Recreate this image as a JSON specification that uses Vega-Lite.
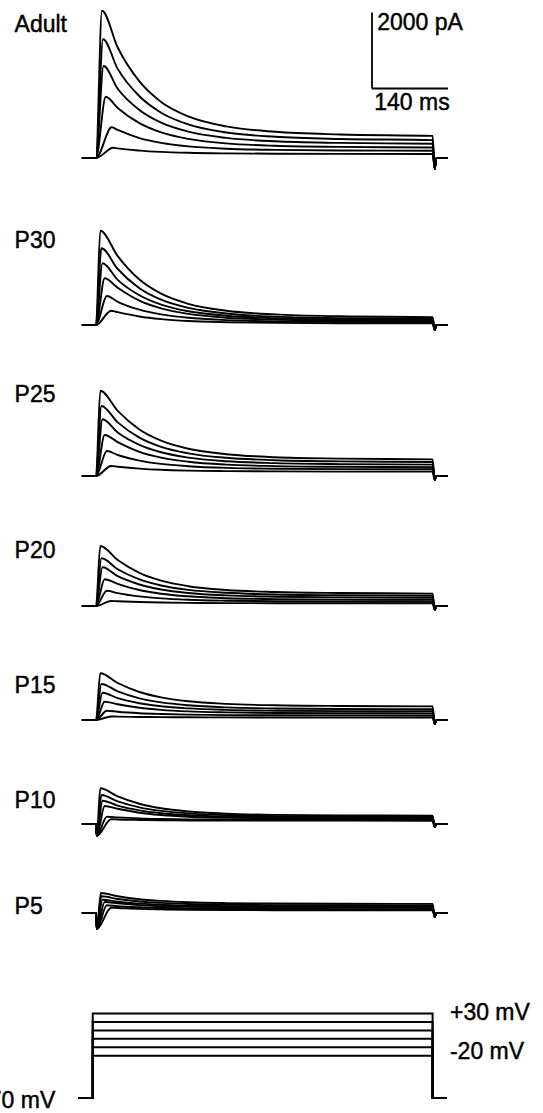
{
"$schema": "https://vega.github.io/schema/vega-lite/v6.json",
"padding": 0,
"spacing": 0,
"bounds": "flush",
"background": "white",
"config": {"view": {"stroke": null}, "text": {"font": "Liberation Sans", "fontSize": 23, "color": "black", "stroke": "black", "strokeWidth": 0.45}},
"datasets": {
"cur": [
{"p":"Adult","v":30,"t":-26,"i":0},{"p":"Adult","v":30,"t":0,"i":0},{"p":"Adult","v":30,"t":11,"i":3876},{"p":"Adult","v":30,"t":40,"i":2908},{"p":"Adult","v":30,"t":80,"i":2016},{"p":"Adult","v":30,"t":120,"i":1476},{"p":"Adult","v":30,"t":170,"i":1095},{"p":"Adult","v":30,"t":240,"i":832},{"p":"Adult","v":30,"t":330,"i":689},{"p":"Adult","v":30,"t":450,"i":618},{"p":"Adult","v":30,"t":620,"i":582},{"p":"Adult","v":30,"t":624,"i":-289},{"p":"Adult","v":30,"t":627,"i":0},{"p":"Adult","v":30,"t":648,"i":0},
{"p":"Adult","v":20,"t":-26,"i":0},{"p":"Adult","v":20,"t":0,"i":0},{"p":"Adult","v":20,"t":13,"i":3124},{"p":"Adult","v":20,"t":40,"i":2345},{"p":"Adult","v":20,"t":80,"i":1624},{"p":"Adult","v":20,"t":120,"i":1192},{"p":"Adult","v":20,"t":170,"i":884},{"p":"Adult","v":20,"t":240,"i":671},{"p":"Adult","v":20,"t":330,"i":558},{"p":"Adult","v":20,"t":450,"i":500},{"p":"Adult","v":20,"t":620,"i":471},{"p":"Adult","v":20,"t":624,"i":-289},{"p":"Adult","v":20,"t":627,"i":0},{"p":"Adult","v":20,"t":648,"i":0},
{"p":"Adult","v":10,"t":-26,"i":0},{"p":"Adult","v":10,"t":0,"i":0},{"p":"Adult","v":10,"t":14,"i":2421},{"p":"Adult","v":10,"t":40,"i":1821},{"p":"Adult","v":10,"t":80,"i":1263},{"p":"Adult","v":10,"t":120,"i":929},{"p":"Adult","v":10,"t":170,"i":692},{"p":"Adult","v":10,"t":240,"i":529},{"p":"Adult","v":10,"t":330,"i":439},{"p":"Adult","v":10,"t":450,"i":397},{"p":"Adult","v":10,"t":620,"i":374},{"p":"Adult","v":10,"t":624,"i":-289},{"p":"Adult","v":10,"t":627,"i":0},{"p":"Adult","v":10,"t":648,"i":0},
{"p":"Adult","v":0,"t":-26,"i":0},{"p":"Adult","v":0,"t":0,"i":0},{"p":"Adult","v":0,"t":18,"i":1613},{"p":"Adult","v":0,"t":40,"i":1318},{"p":"Adult","v":0,"t":80,"i":916},{"p":"Adult","v":0,"t":120,"i":674},{"p":"Adult","v":0,"t":170,"i":503},{"p":"Adult","v":0,"t":240,"i":384},{"p":"Adult","v":0,"t":330,"i":321},{"p":"Adult","v":0,"t":450,"i":292},{"p":"Adult","v":0,"t":620,"i":276},{"p":"Adult","v":0,"t":624,"i":-289},{"p":"Adult","v":0,"t":627,"i":0},{"p":"Adult","v":0,"t":648,"i":0},
{"p":"Adult","v":-10,"t":-26,"i":0},{"p":"Adult","v":-10,"t":0,"i":0},{"p":"Adult","v":-10,"t":29,"i":808},{"p":"Adult","v":-10,"t":40,"i":737},{"p":"Adult","v":-10,"t":80,"i":524},{"p":"Adult","v":-10,"t":120,"i":397},{"p":"Adult","v":-10,"t":170,"i":305},{"p":"Adult","v":-10,"t":240,"i":245},{"p":"Adult","v":-10,"t":330,"i":213},{"p":"Adult","v":-10,"t":450,"i":197},{"p":"Adult","v":-10,"t":620,"i":189},{"p":"Adult","v":-10,"t":624,"i":-289},{"p":"Adult","v":-10,"t":627,"i":0},{"p":"Adult","v":-10,"t":648,"i":0},
{"p":"Adult","v":-20,"t":-26,"i":0},{"p":"Adult","v":-20,"t":0,"i":0},{"p":"Adult","v":-20,"t":32,"i":271},{"p":"Adult","v":-20,"t":40,"i":253},{"p":"Adult","v":-20,"t":80,"i":195},{"p":"Adult","v":-20,"t":120,"i":161},{"p":"Adult","v":-20,"t":170,"i":137},{"p":"Adult","v":-20,"t":240,"i":121},{"p":"Adult","v":-20,"t":330,"i":113},{"p":"Adult","v":-20,"t":450,"i":108},{"p":"Adult","v":-20,"t":620,"i":107},{"p":"Adult","v":-20,"t":624,"i":-289},{"p":"Adult","v":-20,"t":627,"i":0},{"p":"Adult","v":-20,"t":648,"i":0},

{"p":"P30","v":30,"t":-26,"i":0},{"p":"P30","v":30,"t":0,"i":0},{"p":"P30","v":30,"t":8,"i":2482},{"p":"P30","v":30,"t":40,"i":1813},{"p":"P30","v":30,"t":80,"i":1195},{"p":"P30","v":30,"t":120,"i":824},{"p":"P30","v":30,"t":170,"i":558},{"p":"P30","v":30,"t":240,"i":376},{"p":"P30","v":30,"t":330,"i":279},{"p":"P30","v":30,"t":450,"i":229},{"p":"P30","v":30,"t":620,"i":205},{"p":"P30","v":30,"t":624,"i":-132},{"p":"P30","v":30,"t":627,"i":0},{"p":"P30","v":30,"t":648,"i":0},
{"p":"P30","v":20,"t":-26,"i":0},{"p":"P30","v":20,"t":0,"i":0},{"p":"P30","v":20,"t":10,"i":2018},{"p":"P30","v":20,"t":40,"i":1474},{"p":"P30","v":20,"t":80,"i":968},{"p":"P30","v":20,"t":120,"i":666},{"p":"P30","v":20,"t":170,"i":450},{"p":"P30","v":20,"t":240,"i":303},{"p":"P30","v":20,"t":330,"i":221},{"p":"P30","v":20,"t":450,"i":182},{"p":"P30","v":20,"t":620,"i":161},{"p":"P30","v":20,"t":624,"i":-132},{"p":"P30","v":20,"t":627,"i":0},{"p":"P30","v":20,"t":648,"i":0},
{"p":"P30","v":10,"t":-26,"i":0},{"p":"P30","v":10,"t":0,"i":0},{"p":"P30","v":10,"t":12,"i":1624},{"p":"P30","v":10,"t":40,"i":1187},{"p":"P30","v":10,"t":80,"i":782},{"p":"P30","v":10,"t":120,"i":537},{"p":"P30","v":10,"t":170,"i":363},{"p":"P30","v":10,"t":240,"i":245},{"p":"P30","v":10,"t":330,"i":179},{"p":"P30","v":10,"t":450,"i":147},{"p":"P30","v":10,"t":620,"i":132},{"p":"P30","v":10,"t":624,"i":-132},{"p":"P30","v":10,"t":627,"i":0},{"p":"P30","v":10,"t":648,"i":0},
{"p":"P30","v":0,"t":-26,"i":0},{"p":"P30","v":0,"t":0,"i":0},{"p":"P30","v":0,"t":16,"i":1229},{"p":"P30","v":0,"t":40,"i":982},{"p":"P30","v":0,"t":80,"i":642},{"p":"P30","v":0,"t":120,"i":437},{"p":"P30","v":0,"t":170,"i":292},{"p":"P30","v":0,"t":240,"i":192},{"p":"P30","v":0,"t":330,"i":142},{"p":"P30","v":0,"t":450,"i":116},{"p":"P30","v":0,"t":620,"i":103},{"p":"P30","v":0,"t":624,"i":-132},{"p":"P30","v":0,"t":627,"i":0},{"p":"P30","v":0,"t":648,"i":0},
{"p":"P30","v":-10,"t":-26,"i":0},{"p":"P30","v":-10,"t":0,"i":0},{"p":"P30","v":-10,"t":20,"i":763},{"p":"P30","v":-10,"t":40,"i":611},{"p":"P30","v":-10,"t":80,"i":403},{"p":"P30","v":-10,"t":120,"i":279},{"p":"P30","v":-10,"t":170,"i":189},{"p":"P30","v":-10,"t":240,"i":129},{"p":"P30","v":-10,"t":330,"i":95},{"p":"P30","v":-10,"t":450,"i":82},{"p":"P30","v":-10,"t":620,"i":72},{"p":"P30","v":-10,"t":624,"i":-132},{"p":"P30","v":-10,"t":627,"i":0},{"p":"P30","v":-10,"t":648,"i":0},
{"p":"P30","v":-20,"t":-26,"i":0},{"p":"P30","v":-20,"t":0,"i":0},{"p":"P30","v":-20,"t":28,"i":376},{"p":"P30","v":-20,"t":40,"i":337},{"p":"P30","v":-20,"t":80,"i":224},{"p":"P30","v":-20,"t":120,"i":155},{"p":"P30","v":-20,"t":170,"i":105},{"p":"P30","v":-20,"t":240,"i":74},{"p":"P30","v":-20,"t":330,"i":55},{"p":"P30","v":-20,"t":450,"i":47},{"p":"P30","v":-20,"t":620,"i":42},{"p":"P30","v":-20,"t":624,"i":-132},{"p":"P30","v":-20,"t":627,"i":0},{"p":"P30","v":-20,"t":648,"i":0},

{"p":"P25","v":30,"t":-26,"i":0},{"p":"P25","v":30,"t":0,"i":0},{"p":"P25","v":30,"t":8,"i":2245},{"p":"P25","v":30,"t":40,"i":1713},{"p":"P25","v":30,"t":80,"i":1224},{"p":"P25","v":30,"t":120,"i":929},{"p":"P25","v":30,"t":170,"i":718},{"p":"P25","v":30,"t":240,"i":574},{"p":"P25","v":30,"t":330,"i":495},{"p":"P25","v":30,"t":450,"i":458},{"p":"P25","v":30,"t":620,"i":437},{"p":"P25","v":30,"t":624,"i":-105},{"p":"P25","v":30,"t":627,"i":0},{"p":"P25","v":30,"t":648,"i":0},
{"p":"P25","v":20,"t":-26,"i":0},{"p":"P25","v":20,"t":0,"i":0},{"p":"P25","v":20,"t":10,"i":1842},{"p":"P25","v":20,"t":40,"i":1411},{"p":"P25","v":20,"t":80,"i":1011},{"p":"P25","v":20,"t":120,"i":768},{"p":"P25","v":20,"t":170,"i":597},{"p":"P25","v":20,"t":240,"i":479},{"p":"P25","v":20,"t":330,"i":416},{"p":"P25","v":20,"t":450,"i":384},{"p":"P25","v":20,"t":620,"i":368},{"p":"P25","v":20,"t":624,"i":-105},{"p":"P25","v":20,"t":627,"i":0},{"p":"P25","v":20,"t":648,"i":0},
{"p":"P25","v":10,"t":-26,"i":0},{"p":"P25","v":10,"t":0,"i":0},{"p":"P25","v":10,"t":12,"i":1492},{"p":"P25","v":10,"t":40,"i":1142},{"p":"P25","v":10,"t":80,"i":818},{"p":"P25","v":10,"t":120,"i":624},{"p":"P25","v":10,"t":170,"i":484},{"p":"P25","v":10,"t":240,"i":389},{"p":"P25","v":10,"t":330,"i":339},{"p":"P25","v":10,"t":450,"i":313},{"p":"P25","v":10,"t":620,"i":300},{"p":"P25","v":10,"t":624,"i":-105},{"p":"P25","v":10,"t":627,"i":0},{"p":"P25","v":10,"t":648,"i":0},
{"p":"P25","v":0,"t":-26,"i":0},{"p":"P25","v":0,"t":0,"i":0},{"p":"P25","v":0,"t":16,"i":1079},{"p":"P25","v":0,"t":40,"i":892},{"p":"P25","v":0,"t":80,"i":637},{"p":"P25","v":0,"t":120,"i":484},{"p":"P25","v":0,"t":170,"i":376},{"p":"P25","v":0,"t":240,"i":300},{"p":"P25","v":0,"t":330,"i":261},{"p":"P25","v":0,"t":450,"i":242},{"p":"P25","v":0,"t":620,"i":232},{"p":"P25","v":0,"t":624,"i":-105},{"p":"P25","v":0,"t":627,"i":0},{"p":"P25","v":0,"t":648,"i":0},
{"p":"P25","v":-10,"t":-26,"i":0},{"p":"P25","v":-10,"t":0,"i":0},{"p":"P25","v":-10,"t":20,"i":658},{"p":"P25","v":-10,"t":40,"i":553},{"p":"P25","v":-10,"t":80,"i":405},{"p":"P25","v":-10,"t":120,"i":318},{"p":"P25","v":-10,"t":170,"i":258},{"p":"P25","v":-10,"t":240,"i":213},{"p":"P25","v":-10,"t":330,"i":192},{"p":"P25","v":-10,"t":450,"i":182},{"p":"P25","v":-10,"t":620,"i":176},{"p":"P25","v":-10,"t":624,"i":-105},{"p":"P25","v":-10,"t":627,"i":0},{"p":"P25","v":-10,"t":648,"i":0},
{"p":"P25","v":-20,"t":-26,"i":0},{"p":"P25","v":-20,"t":0,"i":0},{"p":"P25","v":-20,"t":28,"i":263},{"p":"P25","v":-20,"t":40,"i":245},{"p":"P25","v":-20,"t":80,"i":195},{"p":"P25","v":-20,"t":120,"i":163},{"p":"P25","v":-20,"t":170,"i":142},{"p":"P25","v":-20,"t":240,"i":129},{"p":"P25","v":-20,"t":330,"i":121},{"p":"P25","v":-20,"t":450,"i":116},{"p":"P25","v":-20,"t":620,"i":114},{"p":"P25","v":-20,"t":624,"i":-105},{"p":"P25","v":-20,"t":627,"i":0},{"p":"P25","v":-20,"t":648,"i":0},

{"p":"P20","v":30,"t":-26,"i":0},{"p":"P20","v":30,"t":0,"i":0},{"p":"P20","v":30,"t":8,"i":1579},{"p":"P20","v":30,"t":40,"i":1211},{"p":"P20","v":30,"t":80,"i":871},{"p":"P20","v":30,"t":120,"i":666},{"p":"P20","v":30,"t":170,"i":521},{"p":"P20","v":30,"t":240,"i":421},{"p":"P20","v":30,"t":330,"i":368},{"p":"P20","v":30,"t":450,"i":342},{"p":"P20","v":30,"t":620,"i":326},{"p":"P20","v":30,"t":624,"i":-105},{"p":"P20","v":30,"t":627,"i":0},{"p":"P20","v":30,"t":648,"i":0},
{"p":"P20","v":20,"t":-26,"i":0},{"p":"P20","v":20,"t":0,"i":0},{"p":"P20","v":20,"t":10,"i":1255},{"p":"P20","v":20,"t":40,"i":966},{"p":"P20","v":20,"t":80,"i":700},{"p":"P20","v":20,"t":120,"i":539},{"p":"P20","v":20,"t":170,"i":424},{"p":"P20","v":20,"t":240,"i":347},{"p":"P20","v":20,"t":330,"i":303},{"p":"P20","v":20,"t":450,"i":284},{"p":"P20","v":20,"t":620,"i":271},{"p":"P20","v":20,"t":624,"i":-105},{"p":"P20","v":20,"t":627,"i":0},{"p":"P20","v":20,"t":648,"i":0},
{"p":"P20","v":10,"t":-26,"i":0},{"p":"P20","v":10,"t":0,"i":0},{"p":"P20","v":10,"t":12,"i":1018},{"p":"P20","v":10,"t":40,"i":784},{"p":"P20","v":10,"t":80,"i":566},{"p":"P20","v":10,"t":120,"i":434},{"p":"P20","v":10,"t":170,"i":342},{"p":"P20","v":10,"t":240,"i":279},{"p":"P20","v":10,"t":330,"i":245},{"p":"P20","v":10,"t":450,"i":226},{"p":"P20","v":10,"t":620,"i":218},{"p":"P20","v":10,"t":624,"i":-105},{"p":"P20","v":10,"t":627,"i":0},{"p":"P20","v":10,"t":648,"i":0},
{"p":"P20","v":0,"t":-26,"i":0},{"p":"P20","v":0,"t":0,"i":0},{"p":"P20","v":0,"t":16,"i":703},{"p":"P20","v":0,"t":40,"i":584},{"p":"P20","v":0,"t":80,"i":421},{"p":"P20","v":0,"t":120,"i":324},{"p":"P20","v":0,"t":170,"i":255},{"p":"P20","v":0,"t":240,"i":205},{"p":"P20","v":0,"t":330,"i":182},{"p":"P20","v":0,"t":450,"i":168},{"p":"P20","v":0,"t":620,"i":163},{"p":"P20","v":0,"t":624,"i":-105},{"p":"P20","v":0,"t":627,"i":0},{"p":"P20","v":0,"t":648,"i":0},
{"p":"P20","v":-10,"t":-26,"i":0},{"p":"P20","v":-10,"t":0,"i":0},{"p":"P20","v":-10,"t":20,"i":403},{"p":"P20","v":-10,"t":40,"i":339},{"p":"P20","v":-10,"t":80,"i":253},{"p":"P20","v":-10,"t":120,"i":200},{"p":"P20","v":-10,"t":170,"i":163},{"p":"P20","v":-10,"t":240,"i":139},{"p":"P20","v":-10,"t":330,"i":126},{"p":"P20","v":-10,"t":450,"i":118},{"p":"P20","v":-10,"t":620,"i":116},{"p":"P20","v":-10,"t":624,"i":-105},{"p":"P20","v":-10,"t":627,"i":0},{"p":"P20","v":-10,"t":648,"i":0},
{"p":"P20","v":-20,"t":-26,"i":0},{"p":"P20","v":-20,"t":0,"i":0},{"p":"P20","v":-20,"t":28,"i":132},{"p":"P20","v":-20,"t":40,"i":124},{"p":"P20","v":-20,"t":80,"i":104},{"p":"P20","v":-20,"t":120,"i":92},{"p":"P20","v":-20,"t":170,"i":83},{"p":"P20","v":-20,"t":240,"i":76},{"p":"P20","v":-20,"t":330,"i":74},{"p":"P20","v":-20,"t":450,"i":72},{"p":"P20","v":-20,"t":620,"i":71},{"p":"P20","v":-20,"t":624,"i":-105},{"p":"P20","v":-20,"t":627,"i":0},{"p":"P20","v":-20,"t":648,"i":0},

{"p":"P15","v":30,"t":-26,"i":0},{"p":"P15","v":30,"t":0,"i":0},{"p":"P15","v":30,"t":8,"i":1229},{"p":"P15","v":30,"t":40,"i":974},{"p":"P15","v":30,"t":80,"i":737},{"p":"P15","v":30,"t":120,"i":595},{"p":"P15","v":30,"t":170,"i":492},{"p":"P15","v":30,"t":240,"i":424},{"p":"P15","v":30,"t":330,"i":387},{"p":"P15","v":30,"t":450,"i":368},{"p":"P15","v":30,"t":620,"i":358},{"p":"P15","v":30,"t":624,"i":-105},{"p":"P15","v":30,"t":627,"i":0},{"p":"P15","v":30,"t":648,"i":0},
{"p":"P15","v":20,"t":-26,"i":0},{"p":"P15","v":20,"t":0,"i":0},{"p":"P15","v":20,"t":10,"i":947},{"p":"P15","v":20,"t":40,"i":753},{"p":"P15","v":20,"t":80,"i":571},{"p":"P15","v":20,"t":120,"i":463},{"p":"P15","v":20,"t":170,"i":387},{"p":"P15","v":20,"t":240,"i":332},{"p":"P15","v":20,"t":330,"i":303},{"p":"P15","v":20,"t":450,"i":289},{"p":"P15","v":20,"t":620,"i":282},{"p":"P15","v":20,"t":624,"i":-105},{"p":"P15","v":20,"t":627,"i":0},{"p":"P15","v":20,"t":648,"i":0},
{"p":"P15","v":10,"t":-26,"i":0},{"p":"P15","v":10,"t":0,"i":0},{"p":"P15","v":10,"t":12,"i":718},{"p":"P15","v":10,"t":40,"i":574},{"p":"P15","v":10,"t":80,"i":442},{"p":"P15","v":10,"t":120,"i":361},{"p":"P15","v":10,"t":170,"i":305},{"p":"P15","v":10,"t":240,"i":266},{"p":"P15","v":10,"t":330,"i":245},{"p":"P15","v":10,"t":450,"i":234},{"p":"P15","v":10,"t":620,"i":229},{"p":"P15","v":10,"t":624,"i":-105},{"p":"P15","v":10,"t":627,"i":0},{"p":"P15","v":10,"t":648,"i":0},
{"p":"P15","v":0,"t":-26,"i":0},{"p":"P15","v":0,"t":0,"i":0},{"p":"P15","v":0,"t":16,"i":482},{"p":"P15","v":0,"t":40,"i":413},{"p":"P15","v":0,"t":80,"i":321},{"p":"P15","v":0,"t":120,"i":266},{"p":"P15","v":0,"t":170,"i":226},{"p":"P15","v":0,"t":240,"i":200},{"p":"P15","v":0,"t":330,"i":184},{"p":"P15","v":0,"t":450,"i":178},{"p":"P15","v":0,"t":620,"i":174},{"p":"P15","v":0,"t":624,"i":-105},{"p":"P15","v":0,"t":627,"i":0},{"p":"P15","v":0,"t":648,"i":0},
{"p":"P15","v":-10,"t":-26,"i":0},{"p":"P15","v":-10,"t":0,"i":0},{"p":"P15","v":-10,"t":20,"i":245},{"p":"P15","v":-10,"t":40,"i":217},{"p":"P15","v":-10,"t":80,"i":179},{"p":"P15","v":-10,"t":120,"i":158},{"p":"P15","v":-10,"t":170,"i":141},{"p":"P15","v":-10,"t":240,"i":129},{"p":"P15","v":-10,"t":330,"i":124},{"p":"P15","v":-10,"t":450,"i":121},{"p":"P15","v":-10,"t":620,"i":120},{"p":"P15","v":-10,"t":624,"i":-105},{"p":"P15","v":-10,"t":627,"i":0},{"p":"P15","v":-10,"t":648,"i":0},
{"p":"P15","v":-20,"t":-26,"i":0},{"p":"P15","v":-20,"t":0,"i":0},{"p":"P15","v":-20,"t":28,"i":92},{"p":"P15","v":-20,"t":40,"i":89},{"p":"P15","v":-20,"t":80,"i":80},{"p":"P15","v":-20,"t":120,"i":75},{"p":"P15","v":-20,"t":170,"i":71},{"p":"P15","v":-20,"t":240,"i":68},{"p":"P15","v":-20,"t":330,"i":67},{"p":"P15","v":-20,"t":450,"i":66},{"p":"P15","v":-20,"t":620,"i":66},{"p":"P15","v":-20,"t":624,"i":-105},{"p":"P15","v":-20,"t":627,"i":0},{"p":"P15","v":-20,"t":648,"i":0},

{"p":"P10","v":30,"t":-26,"i":0},{"p":"P10","v":30,"t":0,"i":0},{"p":"P10","v":30,"t":1.5,"i":-308},{"p":"P10","v":30,"t":8,"i":939},{"p":"P10","v":30,"t":40,"i":726},{"p":"P10","v":30,"t":80,"i":532},{"p":"P10","v":30,"t":120,"i":413},{"p":"P10","v":30,"t":170,"i":329},{"p":"P10","v":30,"t":240,"i":271},{"p":"P10","v":30,"t":330,"i":239},{"p":"P10","v":30,"t":450,"i":226},{"p":"P10","v":30,"t":620,"i":217},{"p":"P10","v":30,"t":624,"i":-79},{"p":"P10","v":30,"t":627,"i":0},{"p":"P10","v":30,"t":648,"i":0},
{"p":"P10","v":20,"t":-26,"i":0},{"p":"P10","v":20,"t":0,"i":0},{"p":"P10","v":20,"t":1.5,"i":-308},{"p":"P10","v":20,"t":10,"i":763},{"p":"P10","v":20,"t":40,"i":595},{"p":"P10","v":20,"t":80,"i":439},{"p":"P10","v":20,"t":120,"i":345},{"p":"P10","v":20,"t":170,"i":279},{"p":"P10","v":20,"t":240,"i":232},{"p":"P10","v":20,"t":330,"i":208},{"p":"P10","v":20,"t":450,"i":195},{"p":"P10","v":20,"t":620,"i":189},{"p":"P10","v":20,"t":624,"i":-79},{"p":"P10","v":20,"t":627,"i":0},{"p":"P10","v":20,"t":648,"i":0},
{"p":"P10","v":10,"t":-26,"i":0},{"p":"P10","v":10,"t":0,"i":0},{"p":"P10","v":10,"t":1.5,"i":-308},{"p":"P10","v":10,"t":12,"i":613},{"p":"P10","v":10,"t":40,"i":482},{"p":"P10","v":10,"t":80,"i":358},{"p":"P10","v":10,"t":120,"i":284},{"p":"P10","v":10,"t":170,"i":232},{"p":"P10","v":10,"t":240,"i":197},{"p":"P10","v":10,"t":330,"i":176},{"p":"P10","v":10,"t":450,"i":167},{"p":"P10","v":10,"t":620,"i":162},{"p":"P10","v":10,"t":624,"i":-79},{"p":"P10","v":10,"t":627,"i":0},{"p":"P10","v":10,"t":648,"i":0},
{"p":"P10","v":0,"t":-26,"i":0},{"p":"P10","v":0,"t":0,"i":0},{"p":"P10","v":0,"t":1.5,"i":-308},{"p":"P10","v":0,"t":16,"i":474},{"p":"P10","v":0,"t":40,"i":400},{"p":"P10","v":0,"t":80,"i":297},{"p":"P10","v":0,"t":120,"i":237},{"p":"P10","v":0,"t":170,"i":192},{"p":"P10","v":0,"t":240,"i":163},{"p":"P10","v":0,"t":330,"i":147},{"p":"P10","v":0,"t":450,"i":139},{"p":"P10","v":0,"t":620,"i":134},{"p":"P10","v":0,"t":624,"i":-79},{"p":"P10","v":0,"t":627,"i":0},{"p":"P10","v":0,"t":648,"i":0},
{"p":"P10","v":-10,"t":-26,"i":0},{"p":"P10","v":-10,"t":0,"i":0},{"p":"P10","v":-10,"t":1.5,"i":-308},{"p":"P10","v":-10,"t":20,"i":192},{"p":"P10","v":-10,"t":40,"i":174},{"p":"P10","v":-10,"t":80,"i":147},{"p":"P10","v":-10,"t":120,"i":132},{"p":"P10","v":-10,"t":170,"i":121},{"p":"P10","v":-10,"t":240,"i":113},{"p":"P10","v":-10,"t":330,"i":109},{"p":"P10","v":-10,"t":450,"i":107},{"p":"P10","v":-10,"t":620,"i":105},{"p":"P10","v":-10,"t":624,"i":-79},{"p":"P10","v":-10,"t":627,"i":0},{"p":"P10","v":-10,"t":648,"i":0},
{"p":"P10","v":-20,"t":-26,"i":0},{"p":"P10","v":-20,"t":0,"i":0},{"p":"P10","v":-20,"t":1.5,"i":-308},{"p":"P10","v":-20,"t":28,"i":124},{"p":"P10","v":-20,"t":40,"i":118},{"p":"P10","v":-20,"t":80,"i":107},{"p":"P10","v":-20,"t":120,"i":100},{"p":"P10","v":-20,"t":170,"i":94},{"p":"P10","v":-20,"t":240,"i":91},{"p":"P10","v":-20,"t":330,"i":89},{"p":"P10","v":-20,"t":450,"i":88},{"p":"P10","v":-20,"t":620,"i":87},{"p":"P10","v":-20,"t":624,"i":-79},{"p":"P10","v":-20,"t":627,"i":0},{"p":"P10","v":-20,"t":648,"i":0},

{"p":"P5","v":30,"t":-26,"i":0},{"p":"P5","v":30,"t":0,"i":0},{"p":"P5","v":30,"t":1.5,"i":-421},{"p":"P5","v":30,"t":9,"i":526},{"p":"P5","v":30,"t":40,"i":442},{"p":"P5","v":30,"t":80,"i":363},{"p":"P5","v":30,"t":120,"i":318},{"p":"P5","v":30,"t":170,"i":284},{"p":"P5","v":30,"t":240,"i":261},{"p":"P5","v":30,"t":330,"i":249},{"p":"P5","v":30,"t":450,"i":242},{"p":"P5","v":30,"t":620,"i":239},{"p":"P5","v":30,"t":624,"i":-105},{"p":"P5","v":30,"t":627,"i":0},{"p":"P5","v":30,"t":648,"i":0},
{"p":"P5","v":20,"t":-26,"i":0},{"p":"P5","v":20,"t":0,"i":0},{"p":"P5","v":20,"t":1.5,"i":-421},{"p":"P5","v":20,"t":10,"i":439},{"p":"P5","v":20,"t":40,"i":368},{"p":"P5","v":20,"t":80,"i":303},{"p":"P5","v":20,"t":120,"i":266},{"p":"P5","v":20,"t":170,"i":237},{"p":"P5","v":20,"t":240,"i":218},{"p":"P5","v":20,"t":330,"i":208},{"p":"P5","v":20,"t":450,"i":203},{"p":"P5","v":20,"t":620,"i":200},{"p":"P5","v":20,"t":624,"i":-105},{"p":"P5","v":20,"t":627,"i":0},{"p":"P5","v":20,"t":648,"i":0},
{"p":"P5","v":10,"t":-26,"i":0},{"p":"P5","v":10,"t":0,"i":0},{"p":"P5","v":10,"t":1.5,"i":-421},{"p":"P5","v":10,"t":12,"i":350},{"p":"P5","v":10,"t":40,"i":297},{"p":"P5","v":10,"t":80,"i":247},{"p":"P5","v":10,"t":120,"i":216},{"p":"P5","v":10,"t":170,"i":195},{"p":"P5","v":10,"t":240,"i":182},{"p":"P5","v":10,"t":330,"i":174},{"p":"P5","v":10,"t":450,"i":170},{"p":"P5","v":10,"t":620,"i":167},{"p":"P5","v":10,"t":624,"i":-105},{"p":"P5","v":10,"t":627,"i":0},{"p":"P5","v":10,"t":648,"i":0},
{"p":"P5","v":0,"t":-26,"i":0},{"p":"P5","v":0,"t":0,"i":0},{"p":"P5","v":0,"t":1.5,"i":-421},{"p":"P5","v":0,"t":16,"i":289},{"p":"P5","v":0,"t":40,"i":255},{"p":"P5","v":0,"t":80,"i":208},{"p":"P5","v":0,"t":120,"i":179},{"p":"P5","v":0,"t":170,"i":161},{"p":"P5","v":0,"t":240,"i":145},{"p":"P5","v":0,"t":330,"i":138},{"p":"P5","v":0,"t":450,"i":135},{"p":"P5","v":0,"t":620,"i":133},{"p":"P5","v":0,"t":624,"i":-105},{"p":"P5","v":0,"t":627,"i":0},{"p":"P5","v":0,"t":648,"i":0},
{"p":"P5","v":-10,"t":-26,"i":0},{"p":"P5","v":-10,"t":0,"i":0},{"p":"P5","v":-10,"t":1.5,"i":-421},{"p":"P5","v":-10,"t":20,"i":203},{"p":"P5","v":-10,"t":40,"i":179},{"p":"P5","v":-10,"t":80,"i":150},{"p":"P5","v":-10,"t":120,"i":132},{"p":"P5","v":-10,"t":170,"i":118},{"p":"P5","v":-10,"t":240,"i":109},{"p":"P5","v":-10,"t":330,"i":104},{"p":"P5","v":-10,"t":450,"i":102},{"p":"P5","v":-10,"t":620,"i":101},{"p":"P5","v":-10,"t":624,"i":-105},{"p":"P5","v":-10,"t":627,"i":0},{"p":"P5","v":-10,"t":648,"i":0},
{"p":"P5","v":-20,"t":-26,"i":0},{"p":"P5","v":-20,"t":0,"i":0},{"p":"P5","v":-20,"t":1.5,"i":-421},{"p":"P5","v":-20,"t":28,"i":139},{"p":"P5","v":-20,"t":40,"i":132},{"p":"P5","v":-20,"t":80,"i":108},{"p":"P5","v":-20,"t":120,"i":95},{"p":"P5","v":-20,"t":170,"i":84},{"p":"P5","v":-20,"t":240,"i":78},{"p":"P5","v":-20,"t":330,"i":74},{"p":"P5","v":-20,"t":450,"i":73},{"p":"P5","v":-20,"t":620,"i":72},{"p":"P5","v":-20,"t":624,"i":-105},{"p":"P5","v":-20,"t":627,"i":0},{"p":"P5","v":-20,"t":648,"i":0}
],
"prot": [
{"v":30,"t":-33,"m":-70},{"v":30,"t":-6,"m":-70},{"v":30,"t":-6,"m":30},{"v":30,"t":620,"m":30},{"v":30,"t":620,"m":-70},{"v":30,"t":646,"m":-70},
{"v":20,"t":-33,"m":-70},{"v":20,"t":-6,"m":-70},{"v":20,"t":-6,"m":20},{"v":20,"t":620,"m":20},{"v":20,"t":620,"m":-70},{"v":20,"t":646,"m":-70},
{"v":10,"t":-33,"m":-70},{"v":10,"t":-6,"m":-70},{"v":10,"t":-6,"m":10},{"v":10,"t":620,"m":10},{"v":10,"t":620,"m":-70},{"v":10,"t":646,"m":-70},
{"v":0,"t":-33,"m":-70},{"v":0,"t":-6,"m":-70},{"v":0,"t":-6,"m":0},{"v":0,"t":620,"m":0},{"v":0,"t":620,"m":-70},{"v":0,"t":646,"m":-70},
{"v":-10,"t":-33,"m":-70},{"v":-10,"t":-6,"m":-70},{"v":-10,"t":-6,"m":-10},{"v":-10,"t":620,"m":-10},{"v":-10,"t":620,"m":-70},{"v":-10,"t":646,"m":-70},
{"v":-20,"t":-33,"m":-70},{"v":-20,"t":-6,"m":-70},{"v":-20,"t":-6,"m":-20},{"v":-20,"t":620,"m":-20},{"v":-20,"t":620,"m":-70},{"v":-20,"t":646,"m":-70}
]
},
"vconcat": [
{"width": 543, "height": 200, "layer": [
 {"data": {"name": "cur"}, "transform": [{"filter": "datum.p == 'Adult'"}],
  "mark": {"type": "line", "interpolate": "monotone", "color": "black", "strokeWidth": 1.9, "clip": true},
  "encoding": {"x": {"field": "t", "type": "quantitative", "scale": {"domain": [-176.8, 823.4], "nice": false, "zero": false}, "axis": null},
   "y": {"field": "i", "type": "quantitative", "scale": {"domain": [-1105.3, 4157.9], "nice": false, "zero": false}, "axis": null},
   "detail": {"field": "v", "type": "nominal"}}},
 {"data": {"values": [{"lab": "Adult"}]}, "mark": {"type": "text", "align": "left", "baseline": "alphabetic", "clip": true},
  "encoding": {"x": {"datum": -150}, "y": {"datum": 3324}, "text": {"field": "lab"}}},
 {"data": {"values": [{"lab": "2000 pA"}]}, "mark": {"type": "text", "align": "left", "baseline": "alphabetic", "clip": true},
  "encoding": {"x": {"datum": 518}, "y": {"datum": 3368}, "text": {"field": "lab"}}},
 {"data": {"values": [{"lab": "140 ms"}]}, "mark": {"type": "text", "align": "center", "baseline": "alphabetic", "clip": true},
  "encoding": {"x": {"datum": 582}, "y": {"datum": 1250}, "text": {"field": "lab"}}},
 {"data": {"values": [{"bar": "2000 pA"}]}, "mark": {"type": "rule", "color": "black", "strokeWidth": 1.8},
  "encoding": {"x": {"datum": 508.4}, "y": {"datum": 1829}, "y2": {"datum": 3829}}},
 {"data": {"values": [{"bar": "140 ms"}]}, "mark": {"type": "rule", "color": "black", "strokeWidth": 1.8},
  "encoding": {"x": {"datum": 508.4}, "x2": {"datum": 648.4}, "y": {"datum": 1829}}}
]},
{"width": 543, "height": 170, "layer": [
 {"data": {"name": "cur"}, "transform": [{"filter": "datum.p == 'P30'"}],
  "mark": {"type": "line", "interpolate": "monotone", "color": "black", "strokeWidth": 1.9, "clip": true},
  "encoding": {"x": {"field": "t", "type": "quantitative", "scale": {"domain": [-176.8, 823.4], "nice": false, "zero": false}, "axis": null},
   "y": {"field": "i", "type": "quantitative", "scale": {"domain": [-1184.2, 3289.5], "nice": false, "zero": false}, "axis": null},
   "detail": {"field": "v", "type": "nominal"}}},
 {"data": {"values": [{"lab": "P30"}]}, "mark": {"type": "text", "align": "left", "baseline": "alphabetic", "clip": true},
  "encoding": {"x": {"datum": -150}, "y": {"datum": 2018}, "text": {"field": "lab"}}}
]},
{"width": 543, "height": 150, "layer": [
 {"data": {"name": "cur"}, "transform": [{"filter": "datum.p == 'P25'"}],
  "mark": {"type": "line", "interpolate": "monotone", "color": "black", "strokeWidth": 1.9, "clip": true},
  "encoding": {"x": {"field": "t", "type": "quantitative", "scale": {"domain": [-176.8, 823.4], "nice": false, "zero": false}, "axis": null},
   "y": {"field": "i", "type": "quantitative", "scale": {"domain": [-1157.9, 2789.5], "nice": false, "zero": false}, "axis": null},
   "detail": {"field": "v", "type": "nominal"}}},
 {"data": {"values": [{"lab": "P25"}]}, "mark": {"type": "text", "align": "left", "baseline": "alphabetic", "clip": true},
  "encoding": {"x": {"datum": -150}, "y": {"datum": 1950}, "text": {"field": "lab"}}}
]},
{"width": 543, "height": 120, "layer": [
 {"data": {"name": "cur"}, "transform": [{"filter": "datum.p == 'P20'"}],
  "mark": {"type": "line", "interpolate": "monotone", "color": "black", "strokeWidth": 1.9, "clip": true},
  "encoding": {"x": {"field": "t", "type": "quantitative", "scale": {"domain": [-176.8, 823.4], "nice": false, "zero": false}, "axis": null},
   "y": {"field": "i", "type": "quantitative", "scale": {"domain": [-894.7, 2263.2], "nice": false, "zero": false}, "axis": null},
   "detail": {"field": "v", "type": "nominal"}}},
 {"data": {"values": [{"lab": "P20"}]}, "mark": {"type": "text", "align": "left", "baseline": "alphabetic", "clip": true},
  "encoding": {"x": {"datum": -150}, "y": {"datum": 1255}, "text": {"field": "lab"}}}
]},
{"width": 543, "height": 110, "layer": [
 {"data": {"name": "cur"}, "transform": [{"filter": "datum.p == 'P15'"}],
  "mark": {"type": "line", "interpolate": "monotone", "color": "black", "strokeWidth": 1.9, "clip": true},
  "encoding": {"x": {"field": "t", "type": "quantitative", "scale": {"domain": [-176.8, 823.4], "nice": false, "zero": false}, "axis": null},
   "y": {"field": "i", "type": "quantitative", "scale": {"domain": [-789.5, 2105.3], "nice": false, "zero": false}, "axis": null},
   "detail": {"field": "v", "type": "nominal"}}},
 {"data": {"values": [{"lab": "P15"}]}, "mark": {"type": "text", "align": "left", "baseline": "alphabetic", "clip": true},
  "encoding": {"x": {"datum": -150}, "y": {"datum": 711}, "text": {"field": "lab"}}}
]},
{"width": 543, "height": 90, "layer": [
 {"data": {"name": "cur"}, "transform": [{"filter": "datum.p == 'P10'"}],
  "mark": {"type": "line", "interpolate": "monotone", "color": "black", "strokeWidth": 1.9, "clip": true},
  "encoding": {"x": {"field": "t", "type": "quantitative", "scale": {"domain": [-176.8, 823.4], "nice": false, "zero": false}, "axis": null},
   "y": {"field": "i", "type": "quantitative", "scale": {"domain": [-421.1, 1947.4], "nice": false, "zero": false}, "axis": null},
   "detail": {"field": "v", "type": "nominal"}}},
 {"data": {"values": [{"lab": "P10"}]}, "mark": {"type": "text", "align": "left", "baseline": "alphabetic", "clip": true},
  "encoding": {"x": {"datum": -150}, "y": {"datum": 421}, "text": {"field": "lab"}}}
]},
{"width": 543, "height": 100, "layer": [
 {"data": {"name": "cur"}, "transform": [{"filter": "datum.p == 'P5'"}],
  "mark": {"type": "line", "interpolate": "monotone", "color": "black", "strokeWidth": 1.9, "clip": true},
  "encoding": {"x": {"field": "t", "type": "quantitative", "scale": {"domain": [-176.8, 823.4], "nice": false, "zero": false}, "axis": null},
   "y": {"field": "i", "type": "quantitative", "scale": {"domain": [-710.5, 1921.1], "nice": false, "zero": false}, "axis": null},
   "detail": {"field": "v", "type": "nominal"}}},
 {"data": {"values": [{"lab": "P5"}]}, "mark": {"type": "text", "align": "left", "baseline": "alphabetic", "clip": true},
  "encoding": {"x": {"datum": -150}, "y": {"datum": -26}, "text": {"field": "lab"}}}
]},
{"width": 543, "height": 173, "layer": [
 {"data": {"name": "prot"},
  "mark": {"type": "line", "interpolate": "linear", "color": "black", "strokeWidth": 2, "clip": true},
  "encoding": {"x": {"field": "t", "type": "quantitative", "scale": {"domain": [-176.8, 823.4], "nice": false, "zero": false}, "axis": null},
   "y": {"field": "m", "type": "quantitative", "scale": {"domain": [-87.75, 116.98], "nice": false, "zero": false}, "axis": null},
   "detail": {"field": "v", "type": "nominal"}, "order": {"value": null}}},
 {"data": {"values": [{"lab": "+30 mV"}]}, "mark": {"type": "text", "align": "left", "baseline": "middle", "clip": true},
  "encoding": {"x": {"datum": 652}, "y": {"datum": 30}, "text": {"field": "lab"}}},
 {"data": {"values": [{"lab": "-20 mV"}]}, "mark": {"type": "text", "align": "left", "baseline": "middle", "clip": true},
  "encoding": {"x": {"datum": 652}, "y": {"datum": -16}, "text": {"field": "lab"}}},
 {"data": {"values": [{"lab": "-70 mV"}]}, "mark": {"type": "text", "align": "right", "baseline": "middle", "clip": true},
  "encoding": {"x": {"datum": -75}, "y": {"datum": -73.6}, "text": {"field": "lab"}}}
]}
]
}
